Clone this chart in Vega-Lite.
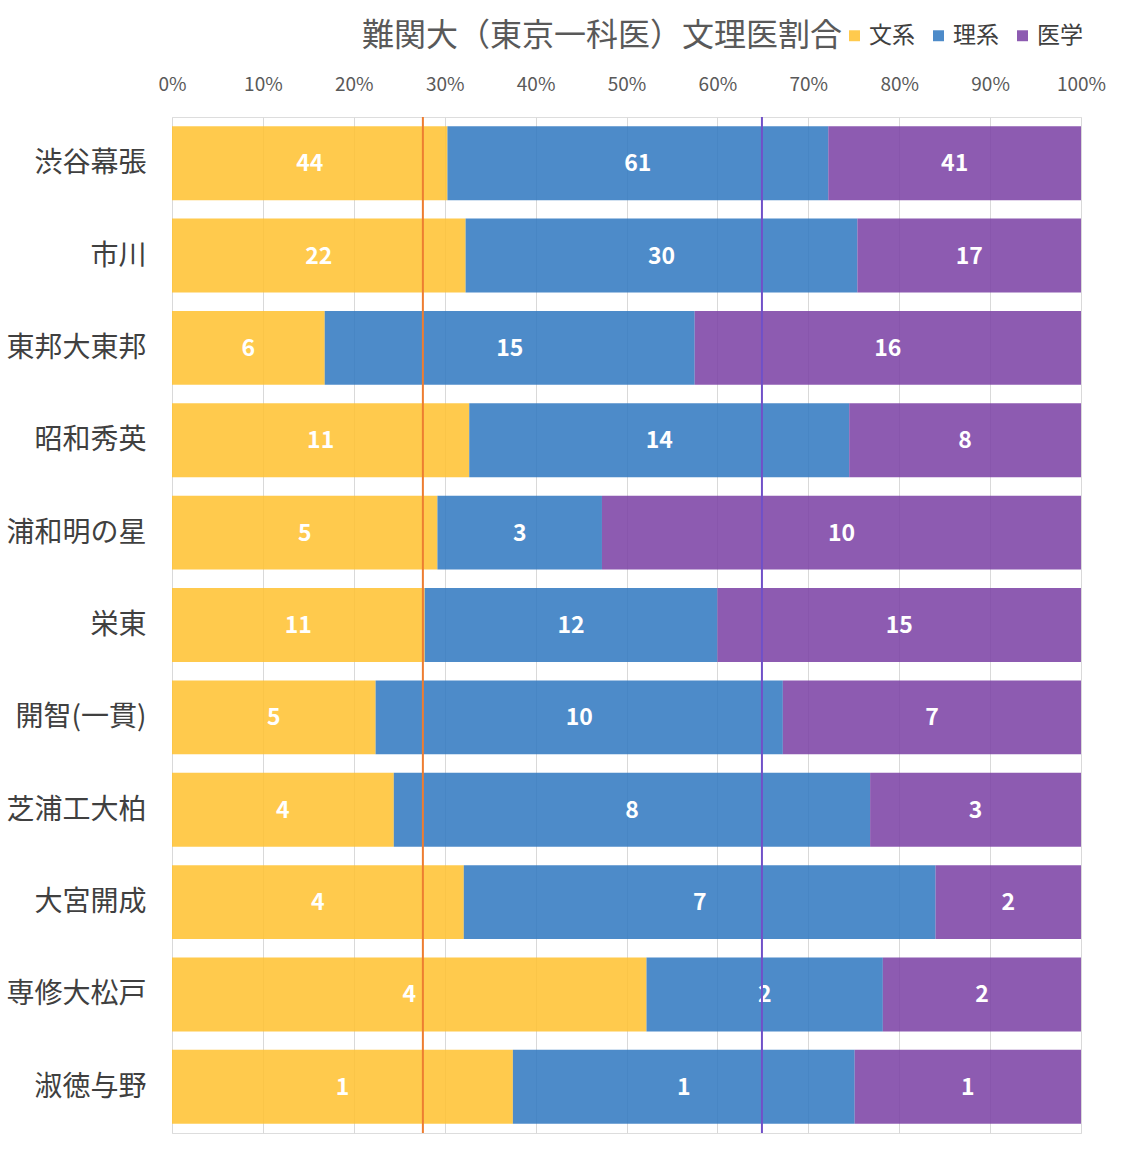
{
  "$schema": "https://vega.github.io/schema/vega-lite/v6.json",
  "width": 909,
  "height": 1016,
  "autosize": "none",
  "padding": {"left": 172, "top": 117, "right": 45, "bottom": 37},
  "background": "white",
  "title": {
    "text": "難関大（東京一科医）文理医割合",
    "anchor": "start",
    "frame": "group",
    "dx": 190,
    "offset": -29,
    "fontSize": 32,
    "fontWeight": "normal",
    "color": "#595959",
    "font": "Noto Sans CJK JP"
  },
  "datasets": {
    "schools": [
      {"school": "渋谷幕張", "cat": "文系", "share": 30.3, "n": 44},
      {"school": "渋谷幕張", "cat": "理系", "share": 41.9, "n": 61},
      {"school": "渋谷幕張", "cat": "医学", "share": 27.8, "n": 41},
      {"school": "市川", "cat": "文系", "share": 32.3, "n": 22},
      {"school": "市川", "cat": "理系", "share": 43.1, "n": 30},
      {"school": "市川", "cat": "医学", "share": 24.6, "n": 17},
      {"school": "東邦大東邦", "cat": "文系", "share": 16.8, "n": 6},
      {"school": "東邦大東邦", "cat": "理系", "share": 40.7, "n": 15},
      {"school": "東邦大東邦", "cat": "医学", "share": 42.5, "n": 16},
      {"school": "昭和秀英", "cat": "文系", "share": 32.7, "n": 11},
      {"school": "昭和秀英", "cat": "理系", "share": 41.8, "n": 14},
      {"school": "昭和秀英", "cat": "医学", "share": 25.5, "n": 8},
      {"school": "浦和明の星", "cat": "文系", "share": 29.2, "n": 5},
      {"school": "浦和明の星", "cat": "理系", "share": 18.1, "n": 3},
      {"school": "浦和明の星", "cat": "医学", "share": 52.7, "n": 10},
      {"school": "栄東", "cat": "文系", "share": 27.8, "n": 11},
      {"school": "栄東", "cat": "理系", "share": 32.2, "n": 12},
      {"school": "栄東", "cat": "医学", "share": 40.0, "n": 15},
      {"school": "開智(一貫)", "cat": "文系", "share": 22.4, "n": 5},
      {"school": "開智(一貫)", "cat": "理系", "share": 44.8, "n": 10},
      {"school": "開智(一貫)", "cat": "医学", "share": 32.8, "n": 7},
      {"school": "芝浦工大柏", "cat": "文系", "share": 24.4, "n": 4},
      {"school": "芝浦工大柏", "cat": "理系", "share": 52.4, "n": 8},
      {"school": "芝浦工大柏", "cat": "医学", "share": 23.2, "n": 3},
      {"school": "大宮開成", "cat": "文系", "share": 32.1, "n": 4},
      {"school": "大宮開成", "cat": "理系", "share": 51.9, "n": 7},
      {"school": "大宮開成", "cat": "医学", "share": 16.0, "n": 2},
      {"school": "専修大松戸", "cat": "文系", "share": 52.2, "n": 4},
      {"school": "専修大松戸", "cat": "理系", "share": 26.0, "n": 2},
      {"school": "専修大松戸", "cat": "医学", "share": 21.8, "n": 2},
      {"school": "淑徳与野", "cat": "文系", "share": 37.5, "n": 1},
      {"school": "淑徳与野", "cat": "理系", "share": 37.6, "n": 1},
      {"school": "淑徳与野", "cat": "医学", "share": 24.9, "n": 1}
    ]
  },
  "layer": [
    {
      "data": {"name": "schools"},
      "transform": [
        {"stack": "share", "groupby": ["school"], "as": ["x0", "x1"]}
      ],
      "mark": {"type": "bar", "opacity": 0.85},
      "encoding": {
        "y": {
          "field": "school",
          "type": "nominal",
          "sort": ["渋谷幕張", "市川", "東邦大東邦", "昭和秀英", "浦和明の星", "栄東", "開智(一貫)", "芝浦工大柏", "大宮開成", "専修大松戸", "淑徳与野"],
          "scale": {"paddingInner": 0.2, "paddingOuter": 0.1},
          "axis": {
            "title": null,
            "domain": false,
            "ticks": false,
            "tickSize": 0,
            "labelPadding": 26,
            "labelFontSize": 28,
            "labelColor": "#404040",
            "labelFont": "Noto Sans CJK JP",
            "labelOffset": 1
          }
        },
        "x": {
          "field": "x0",
          "type": "quantitative",
          "scale": {"domain": [0, 100]},
          "axis": {
            "title": null,
            "orient": "top",
            "values": [0, 10, 20, 30, 40, 50, 60, 70, 80, 90, 100],
            "labelExpr": "datum.value + '%'",
            "grid": true,
            "gridColor": "#d9d9d9",
            "domain": false,
            "ticks": false,
            "tickSize": 0,
            "labelFlush": false,
            "labelPadding": 23,
            "labelFontSize": 19,
            "labelColor": "#595959",
            "labelFont": "Noto Sans CJK JP"
          }
        },
        "x2": {"field": "x1"},
        "color": {
          "field": "cat",
          "type": "nominal",
          "scale": {
            "domain": ["文系", "理系", "医学"],
            "range": ["#FFC12E", "#2E77C0", "#793EA3"]
          },
          "legend": {
            "orient": "none",
            "legendX": 671,
            "legendY": -93,
            "direction": "horizontal",
            "title": null,
            "symbolType": "square",
            "symbolSize": 120,
            "symbolStrokeWidth": 0,
            "labelFontSize": 23,
            "labelColor": "#404040",
            "labelFont": "Noto Sans CJK JP",
            "labelOffset": 3,
            "columnPadding": 12
          }
        }
      }
    },
    {
      "data": {"name": "schools"},
      "transform": [
        {"stack": "share", "groupby": ["school"], "as": ["x0", "x1"]},
        {"fold": ["x0", "x1"], "as": ["edge", "pos"]},
        {"aggregate": [{"op": "mean", "field": "pos", "as": "mid"}], "groupby": ["school", "cat", "n"]}
      ],
      "mark": {
        "type": "text",
        "color": "white",
        "fontSize": 23,
        "fontWeight": "bold",
        "font": "Noto Sans CJK JP",
        "dy": 1
      },
      "encoding": {
        "y": {
          "field": "school",
          "type": "nominal",
          "sort": ["渋谷幕張", "市川", "東邦大東邦", "昭和秀英", "浦和明の星", "栄東", "開智(一貫)", "芝浦工大柏", "大宮開成", "専修大松戸", "淑徳与野"]
        },
        "x": {"field": "mid", "type": "quantitative"},
        "text": {"field": "n", "type": "quantitative"}
      }
    },
    {
      "data": {"values": [{"pct": 27.6}]},
      "mark": {"type": "rule", "color": "#ED7D31", "strokeWidth": 2},
      "encoding": {"x": {"field": "pct", "type": "quantitative"}}
    },
    {
      "data": {"values": [{"pct": 64.9}]},
      "mark": {"type": "rule", "color": "#7050C8", "strokeWidth": 2},
      "encoding": {"x": {"field": "pct", "type": "quantitative"}}
    }
  ]
}
